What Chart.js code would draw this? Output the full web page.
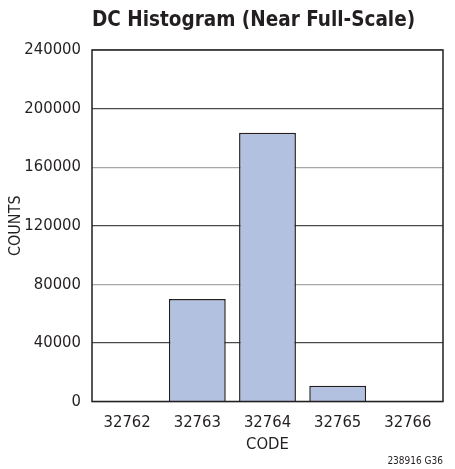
<!DOCTYPE html>
<html>
<head>
<meta charset="utf-8">
<title>DC Histogram (Near Full-Scale)</title>
<script src="https://cdn.jsdelivr.net/npm/chart.js@4.4.0/dist/chart.umd.min.js"></script>
<style>
  html, body { margin: 0; padding: 0; background: #fff; }
  #wrap { width: 455px; height: 469px; position: relative; }
</style>
</head>
<body>
<div id="wrap"><canvas id="histChart"></canvas></div>
<script>
// DC histogram data: output codes and hit counts
const codes = ['32762', '32763', '32764', '32765', '32766'];
const counts = [0, 70000, 183500, 10800, 0];
const countTicks = [0, 40000, 80000, 120000, 160000, 200000, 240000];

const cond = "'DejaVu Sans Condensed', 'Liberation Sans', sans-serif";
const ink = '#231f20';

// plot frame drawn around the chart area
const frame = {
  id: 'frame',
  afterDatasetsDraw(chart) {
    const a = chart.chartArea;
    const ctx = chart.ctx;
    ctx.save();
    ctx.strokeStyle = ink;
    ctx.lineWidth = 1.5;
    ctx.strokeRect(a.left, a.top, a.right - a.left, a.bottom - a.top);
    ctx.restore();
  }
};

new Chart(document.getElementById('histChart'), {
  type: 'bar',
  data: {
    labels: codes,
    datasets: [{
      data: counts,
      backgroundColor: '#b2c1e0',
      borderColor: ink,
      borderWidth: 1.5,
      borderSkipped: 'start',
      barPercentage: 0.81,
      categoryPercentage: 1
    }]
  },
  options: {
    responsive: true,
    maintainAspectRatio: false,
    animation: false,
    layout: { padding: { left: 0, right: 12, top: 0, bottom: 0 } },
    plugins: {
      legend: { display: false },
      tooltip: { enabled: false },
      title: {
        display: true,
        fullSize: false,
        align: 'start',
        text: 'DC Histogram (Near Full-Scale)',
        color: ink,
        font: { family: cond, size: 20.5, weight: 'bold' },
        padding: { top: 8, bottom: 17.4 }
      },
      subtitle: {
        display: true,
        position: 'bottom',
        align: 'end',
        text: '238916 G36',
        color: ink,
        font: { family: cond, size: 10 },
        padding: { top: 0, bottom: 2 }
      }
    },
    scales: {
      x: {
        grid: { display: false, drawTicks: false },
        border: { display: false },
        ticks: {
          color: ink,
          padding: 11,
          font: { family: cond, size: 16.5 }
        },
        title: {
          display: true,
          text: 'CODE',
          color: ink,
          font: { family: cond, size: 16.5 },
          padding: { top: 0, bottom: 0 }
        },
        afterFit(scale) { scale.height = 53.5; }
      },
      y: {
        min: 0,
        max: 240000,
        afterBuildTicks(scale) {
          scale.ticks = countTicks.map(v => ({ value: v }));
        },
        grid: {
          drawTicks: false,
          lineWidth: 1.2,
          color: ctx => (ctx.tick && (ctx.tick.value / 40000) % 2 === 0) ? '#a6a6a6' : '#4a4a4a'
        },
        border: { display: false },
        ticks: {
          color: ink,
          padding: 11,
          font: { family: cond, size: 16.5 },
          callback: v => String(v)
        },
        title: {
          display: true,
          text: 'COUNTS',
          color: ink,
          font: { family: cond, size: 16 },
          padding: { top: 6, bottom: 0 }
        },
        afterFit(scale) { scale.width = 92; }
      }
    }
  },
  plugins: [frame]
});
</script>
</body>
</html>
